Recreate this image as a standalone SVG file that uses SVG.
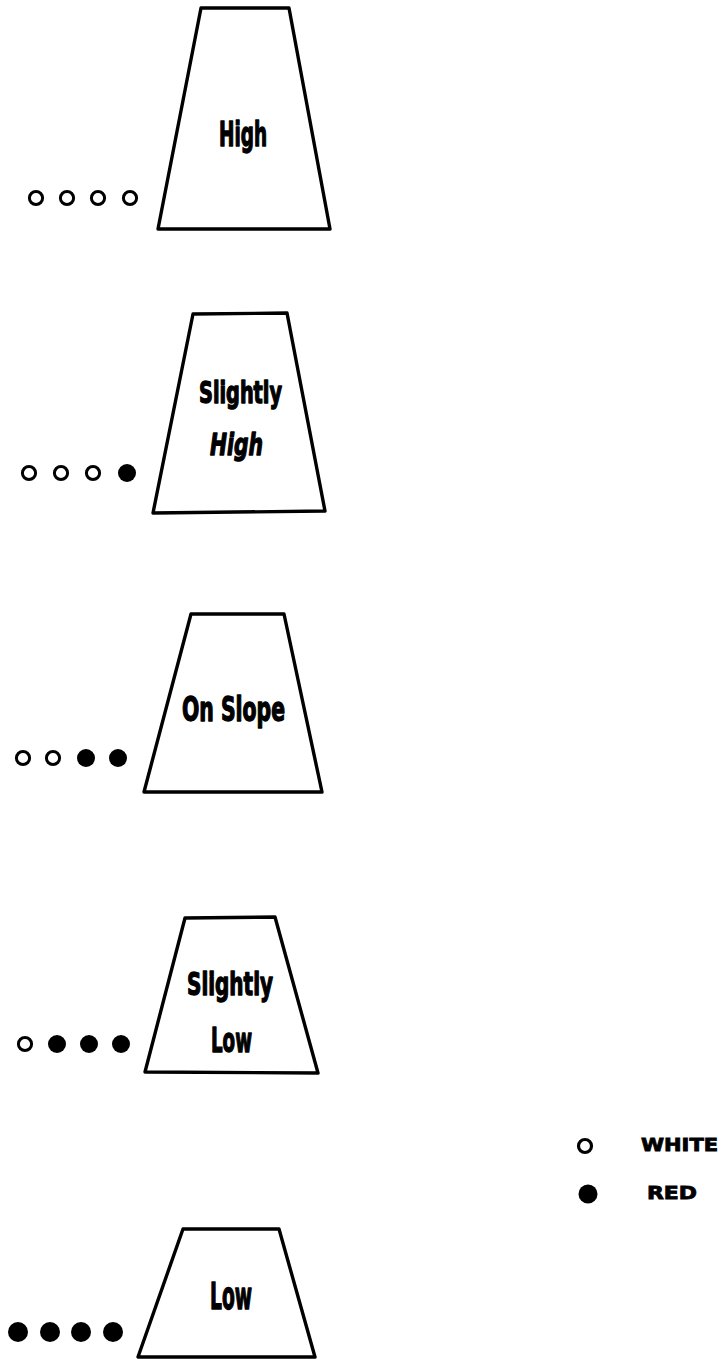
<svg xmlns="http://www.w3.org/2000/svg" width="727" height="1359" viewBox="0 0 727 1359">
<style>
.trap{fill:#fff;stroke:#000;stroke-width:3.4;stroke-linejoin:round}
.lbl{font-family:"Liberation Sans Narrow","DejaVu Sans Condensed","Liberation Sans",sans-serif;font-weight:bold;fill:#000;stroke:#000;stroke-width:1.3;stroke-linejoin:round}
.w{fill:#fff;stroke:#000;stroke-width:3}
.r{fill:#000}
.leg{font-family:"DejaVu Sans","Liberation Sans",sans-serif;font-weight:bold;fill:#000;stroke:#000;stroke-width:0.8}
</style>
<rect width="727" height="1359" fill="#fff"/>
<g id="connectors"/>
<g id="high">
<polygon class="trap" points="201,8 289,8 330,229 158,229"/>
<text class="lbl" x="219" y="146" font-size="33" textLength="48" lengthAdjust="spacingAndGlyphs">High</text>
<circle class="w" cx="36" cy="198" r="6.6"/><circle class="w" cx="67" cy="198" r="6.6"/><circle class="w" cx="98" cy="198" r="6.6"/><circle class="w" cx="130" cy="198" r="6.6"/>
</g>
<g id="slightly-high">
<polygon class="trap" points="193,314 287,313 325,511 153,513"/>
<text class="lbl" x="199" y="403" font-size="30" textLength="83" lengthAdjust="spacingAndGlyphs">Slightly</text>
<text class="lbl" x="210" y="455" font-size="31" font-style="italic" textLength="53" lengthAdjust="spacingAndGlyphs">High</text>
<circle class="w" cx="29" cy="473" r="6.6"/><circle class="w" cx="61" cy="473" r="6.6"/><circle class="w" cx="93" cy="473" r="6.6"/><circle class="r" cx="127" cy="473" r="9"/>
</g>
<g id="on-slope">
<polygon class="trap" points="191,614 284,614 322,792 144,792"/>
<text class="lbl" x="182" y="721" font-size="33" textLength="103" lengthAdjust="spacingAndGlyphs">On Slope</text>
<circle class="w" cx="23" cy="758" r="6.6"/><circle class="w" cx="53" cy="758" r="6.6"/><circle class="r" cx="86" cy="758" r="9"/><circle class="r" cx="118" cy="758" r="9"/>
</g>
<g id="slightly-low">
<polygon class="trap" points="185,918 275,917 318,1073 145,1072"/>
<text class="lbl" x="187" y="995" font-size="32" textLength="86" lengthAdjust="spacingAndGlyphs">Slightly</text>
<text class="lbl" x="211" y="1052" font-size="34" textLength="41" lengthAdjust="spacingAndGlyphs">Low</text>
<circle class="w" cx="25" cy="1044" r="6.6"/><circle class="r" cx="57" cy="1044" r="9"/><circle class="r" cx="89" cy="1044" r="9"/><circle class="r" cx="121" cy="1044" r="9"/>
</g>
<g id="low">
<polygon class="trap" points="183,1229 279,1229 315,1357 138,1357"/>
<text class="lbl" x="210" y="1309" font-size="37" textLength="42" lengthAdjust="spacingAndGlyphs">Low</text>
<circle class="r" cx="18" cy="1332" r="10"/><circle class="r" cx="50" cy="1332" r="10"/><circle class="r" cx="81" cy="1332" r="10"/><circle class="r" cx="113" cy="1332" r="10"/>
</g>
<g id="legend">
<circle cx="585" cy="1146" r="6.5" fill="#fff" stroke="#000" stroke-width="3.2"/>
<text class="leg" x="641" y="1151" font-size="17" textLength="77" lengthAdjust="spacingAndGlyphs">WHITE</text>
<circle class="r" cx="588" cy="1194" r="9.5"/>
<text class="leg" x="647" y="1199" font-size="17" textLength="50" lengthAdjust="spacingAndGlyphs">RED</text>
</g>
</svg>
